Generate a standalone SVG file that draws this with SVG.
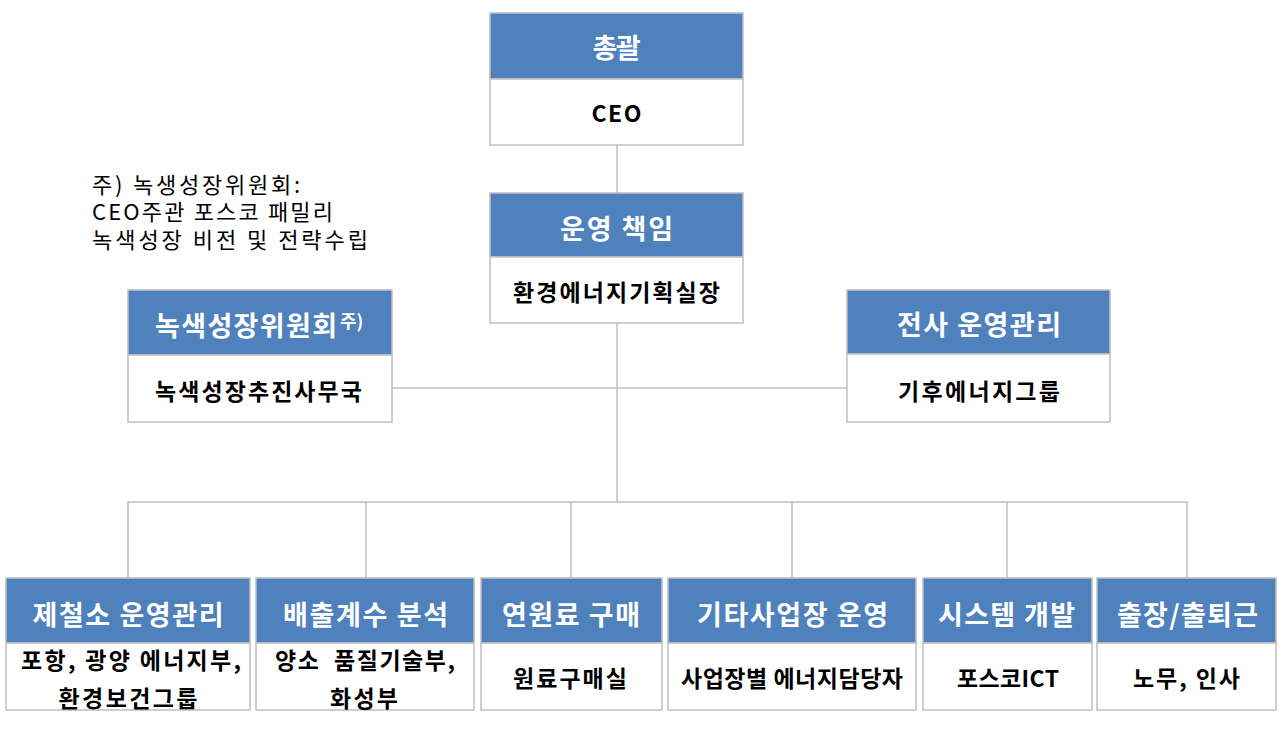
<svg xmlns="http://www.w3.org/2000/svg" width="1284" height="730" viewBox="0 0 1284 730">
<style>
.hd{fill:#4F81BD;stroke:#BFBFBF;stroke-width:1.5}
.bd{fill:#FFFFFF;stroke:#BFBFBF;stroke-width:1.5}
.ht{font-family:"Noto Sans CJK KR","Noto Sans",sans-serif;font-weight:bold;font-size:27px;fill:#FFFFFF;text-anchor:middle}
.bt{font-family:"Noto Sans CJK KR","Noto Sans",sans-serif;font-weight:bold;font-size:23px;fill:#000000;text-anchor:middle}
.nt{font-family:"Noto Sans CJK KR","Noto Sans",sans-serif;font-size:22px;fill:#000000}
.cn{stroke:#BFBFBF;stroke-width:1.5;fill:none}
</style>
<rect width="1284" height="730" fill="#FFFFFF"/>
<g id="connectors">
<line class="cn" x1="617" y1="145" x2="617" y2="193"/>
<line class="cn" x1="617" y1="323" x2="617" y2="502"/>
<line class="cn" x1="392" y1="388" x2="847" y2="388"/>
<polyline class="cn" points="128,578 128,502 1187,502 1187,578"/>
<line class="cn" x1="366" y1="502" x2="366" y2="578"/>
<line class="cn" x1="571" y1="502" x2="571" y2="578"/>
<line class="cn" x1="792" y1="502" x2="792" y2="578"/>
<line class="cn" x1="1007" y1="502" x2="1007" y2="578"/>
</g>
<g id="note">
<text class="nt" x="92" y="193" textLength="208" lengthAdjust="spacing">주) 녹생성장위원회:</text>
<text class="nt" x="92" y="220" textLength="241" lengthAdjust="spacing">CEO주관 포스코 패밀리</text>
<text class="nt" x="92" y="248" textLength="276" lengthAdjust="spacing">녹색성장 비전 및 전략수립</text>
</g>
<g id="n-ceo">
<rect class="hd" x="490" y="13" width="253" height="66"/>
<rect class="bd" x="490" y="79" width="253" height="66"/>
<text class="ht" x="616.5" y="58" textLength="48" lengthAdjust="spacing">총괄</text>
<text class="bt" x="616.5" y="122" textLength="50" lengthAdjust="spacing">CEO</text>
</g>
<g id="n-ops">
<rect class="hd" x="490" y="193" width="253" height="64"/>
<rect class="bd" x="490" y="257" width="253" height="66"/>
<text class="ht" x="616.5" y="239" textLength="113" lengthAdjust="spacing">운영 책임</text>
<text class="bt" x="616.5" y="301" textLength="207" lengthAdjust="spacing">환경에너지기획실장</text>
</g>
<g id="n-green">
<rect class="hd" x="128" y="290" width="264" height="65"/>
<rect class="bd" x="128" y="355" width="264" height="67"/>
<text class="ht" x="155" y="336" style="text-anchor:start" textLength="182" lengthAdjust="spacing">녹색성장위원회</text>
<text class="ht" x="340" y="328" style="text-anchor:start;font-size:18px">주)</text>
<text class="bt" x="258.5" y="400" textLength="207" lengthAdjust="spacing">녹색성장추진사무국</text>
</g>
<g id="n-company">
<rect class="hd" x="847" y="290" width="263" height="64"/>
<rect class="bd" x="847" y="354" width="263" height="68"/>
<text class="ht" x="979" y="335" textLength="164" lengthAdjust="spacing">전사 운영관리</text>
<text class="bt" x="979" y="400" textLength="162" lengthAdjust="spacing">기후에너지그룹</text>
</g>
<g id="n-steel">
<rect class="hd" x="6" y="578" width="244" height="65"/>
<rect class="bd" x="6" y="643" width="244" height="67"/>
<text class="ht" x="128" y="625" textLength="191" lengthAdjust="spacing">제철소 운영관리</text>
<text class="bt" x="131" y="669" textLength="220" lengthAdjust="spacing">포항, 광양 에너지부,</text>
<text class="bt" x="128" y="707" textLength="139" lengthAdjust="spacing">환경보건그룹</text>
</g>
<g id="n-emission">
<rect class="hd" x="256" y="578" width="218" height="65"/>
<rect class="bd" x="256" y="643" width="218" height="67"/>
<text class="ht" x="365.5" y="625" textLength="165" lengthAdjust="spacing">배출계수 분석</text>
<text class="bt" x="365" y="669" textLength="180" lengthAdjust="spacing" xml:space="preserve">양소  품질기술부,</text>
<text class="bt" x="364" y="707" textLength="68" lengthAdjust="spacing">화성부</text>
</g>
<g id="n-fuel">
<rect class="hd" x="481" y="578" width="181" height="65"/>
<rect class="bd" x="481" y="643" width="181" height="67"/>
<text class="ht" x="571" y="625" textLength="138" lengthAdjust="spacing">연원료 구매</text>
<text class="bt" x="570" y="687" textLength="114" lengthAdjust="spacing">원료구매실</text>
</g>
<g id="n-other">
<rect class="hd" x="668" y="578" width="248" height="65"/>
<rect class="bd" x="668" y="643" width="248" height="67"/>
<text class="ht" x="792.5" y="625" textLength="191" lengthAdjust="spacing">기타사업장 운영</text>
<text class="bt" x="792" y="687" textLength="222" lengthAdjust="spacing">사업장별 에너지담당자</text>
</g>
<g id="n-system">
<rect class="hd" x="923" y="578" width="169" height="65"/>
<rect class="bd" x="923" y="643" width="169" height="67"/>
<text class="ht" x="1006.5" y="625" textLength="137" lengthAdjust="spacing">시스템 개발</text>
<text class="bt" x="1008" y="687" textLength="102" lengthAdjust="spacing">포스코ICT</text>
</g>
<g id="n-travel">
<rect class="hd" x="1097" y="578" width="179" height="65"/>
<rect class="bd" x="1097" y="643" width="179" height="67"/>
<text class="ht" x="1187.5" y="625" textLength="141" lengthAdjust="spacing">출장/출퇴근</text>
<text class="bt" x="1186.5" y="687" textLength="107" lengthAdjust="spacing">노무, 인사</text>
</g>
</svg>
